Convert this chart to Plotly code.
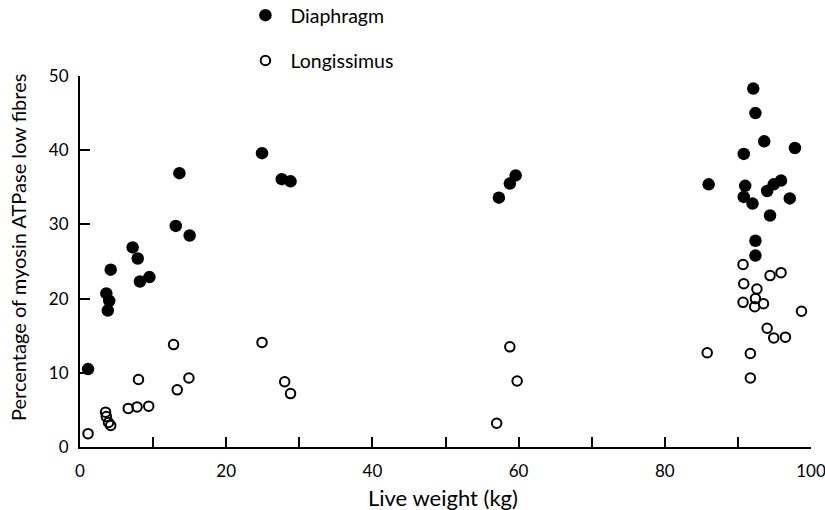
import plotly.graph_objects as go

# Diaphragm (filled circles)
dia_x = [1.1, 3.6, 4.0, 3.8, 4.2, 7.2, 7.9, 8.2, 9.5, 13.6, 13.1, 15.0, 24.9, 27.6, 28.8,
         59.6, 58.8, 57.3,
         92.1, 92.4, 93.6, 90.8, 97.8, 86.0, 91.0, 90.8, 92.0, 94.0, 94.9, 95.9, 97.1, 94.4, 92.4, 92.4]
dia_y = [10.5, 20.7, 19.7, 18.4, 23.9, 26.9, 25.4, 22.3, 22.9, 36.9, 29.8, 28.5, 39.6, 36.1, 35.8,
         36.6, 35.5, 33.6,
         48.3, 45.0, 41.2, 39.5, 40.3, 35.4, 35.2, 33.7, 32.8, 34.5, 35.4, 35.9, 33.5, 31.2, 27.8, 25.8]

# Longissimus (open circles)
lon_x = [1.1, 3.5, 3.6, 3.9, 4.2, 6.6, 7.8, 9.4, 8.0, 12.8, 13.3, 14.9, 24.9, 28.0, 28.8,
         58.8, 59.8, 57.0,
         90.7, 95.9, 94.4, 90.8, 92.6, 92.4, 90.7, 92.3, 93.5, 98.7, 94.0, 94.9, 96.5, 85.8, 91.7, 91.7]
lon_y = [1.8, 4.7, 4.1, 3.3, 2.9, 5.2, 5.4, 5.5, 9.1, 13.8, 7.7, 9.3, 14.1, 8.8, 7.2,
         13.5, 8.9, 3.2,
         24.6, 23.5, 23.1, 22.0, 21.3, 20.0, 19.5, 18.9, 19.3, 18.3, 16.0, 14.7, 14.8, 12.7, 12.6, 9.3]

x_tickvals = [0, 10, 20, 30, 40, 50, 60, 70, 80, 90, 100]
x_ticktext = ["0", "", "20", "", "40", "", "60", "", "80", "", "100"]
y_tickvals = [0, 10, 20, 30, 40, 50]
y_ticktext = ["0", "10", "20", "30", "40", "50"]

x_title = "Live weight (kg)"
y_title = "Percentage of myosin ATPase low fibres"

FONT = "Lato"

fig = go.Figure()
fig.add_trace(go.Scatter(
    x=dia_x, y=dia_y, mode="markers", name="\u00a0Diaphragm", legendgroup="a",
    marker=dict(symbol="circle", size=12.5, color="black", line=dict(width=0)),
    cliponaxis=False,
))
fig.add_trace(go.Scatter(
    x=lon_x, y=lon_y, mode="markers", name="\u00a0Longissimus", legendgroup="b",
    marker=dict(symbol="circle-open", size=9.5, color="black", line=dict(width=2)),
    cliponaxis=False,
))

fig.update_layout(
    width=825, height=510,
    margin=dict(l=80, r=14, t=76, b=63, autoexpand=False),
    paper_bgcolor="white", plot_bgcolor="white",
    font=dict(family=FONT, size=17, color="black"),
    showlegend=True,
    legend=dict(
        x=0.2263, y=1.2156, xanchor="left", yanchor="top",
        bgcolor="rgba(0,0,0,0)", font=dict(size=19.5),
        traceorder="grouped", tracegroupgap=17,
    ),
    xaxis=dict(
        range=[0, 100], tickvals=x_tickvals, ticktext=x_ticktext,
        ticks="inside", ticklen=10, tickwidth=2, tickcolor="black",
        showline=True, linewidth=2, linecolor="black",
        showgrid=False, zeroline=False, automargin=False,
        ticklabelstandoff=8, ticklabeloverflow="allow",
        tickfont=dict(size=17),
    ),
    yaxis=dict(
        range=[0, 50], tickvals=y_tickvals, ticktext=y_ticktext,
        ticks="inside", ticklen=10, tickwidth=2, tickcolor="black",
        showline=True, linewidth=2, linecolor="black",
        showgrid=False, zeroline=False, automargin=False,
        ticklabelstandoff=6,
        tickfont=dict(size=17),
    ),
    annotations=[
        dict(text=x_title, xref="paper", yref="paper", x=0.497, y=-0.1348,
             xanchor="center", yanchor="middle", showarrow=False, font=dict(size=22)),
        dict(text=y_title, xref="paper", yref="paper", x=-0.0848, y=0.5364,
             xanchor="center", yanchor="middle", textangle=-90, showarrow=False,
             font=dict(size=20)),
    ],
)

# remove the browser's default 8px body margin so the figure fills the window
fig.write_html(
    "out.html",
    config={"displayModeBar": False},
    post_script="document.body.style.margin='0';document.body.style.overflow='hidden';",
)
